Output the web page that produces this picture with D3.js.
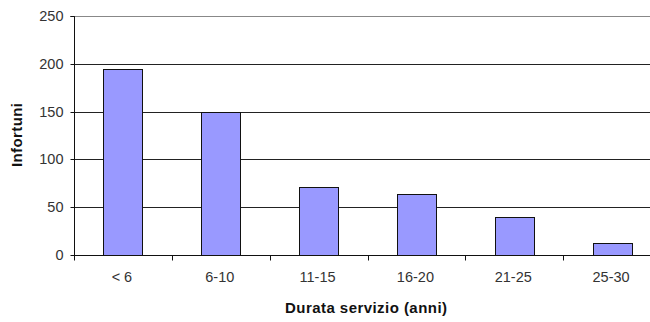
<!DOCTYPE html>
<html><head><meta charset="utf-8">
<script src="https://cdn.jsdelivr.net/npm/d3@7"></script>
<style>body{margin:0;background:#fff}svg{display:block}</style>
</head><body>
<svg id="c" width="650" height="322"></svg>
<script>
const categories = ["< 6", "6-10", "11-15", "16-20", "21-25", "25-30"];
const values = [195, 150, 71, 64, 40, 13];
const yTicks = [0, 50, 100, 150, 200, 250];

(function () {
const svg = d3.select("#c");
const pLeft = 74, pRight = 661, pTop = 16, pBottom = 255;
const xb = d3.scaleBand().domain(categories).range([pLeft, pRight]);
const y = d3.scaleLinear().domain([0, 250]).range([pBottom, pTop]);
const font = "Liberation Sans, Arial, sans-serif";

// gridlines
svg.append("g").selectAll("line").data(yTicks.filter(d => d > 0)).join("line")
  .attr("x1", pLeft).attr("x2", 650)
  .attr("y1", d => Math.round(y(d)) + 0.5).attr("y2", d => Math.round(y(d)) + 0.5)
  .attr("stroke", d => d === 250 ? "#888" : "#222").attr("stroke-width", 1);

// bars
svg.append("g").selectAll("rect").data(values).join("rect")
  .attr("x", (d, i) => Math.round(xb(categories[i]) + xb.bandwidth() / 2 - 19.5) + 0.5)
  .attr("width", 39)
  .attr("y", d => Math.round(y(d)) + 0.5)
  .attr("height", d => Math.round(y(0)) - Math.round(y(d)))
  .attr("fill", "#9999FF").attr("stroke", "#111").attr("stroke-width", 1);

// y axis
const ya = d3.axisLeft(y).tickValues(yTicks).tickSize(4).tickPadding(7);
const gy = svg.append("g").attr("transform", `translate(${pLeft + 0.5},0)`).call(ya);
gy.select(".domain").attr("stroke", "#111").attr("d", `M-4,${Math.round(y(250)) + 0.5}H0V${Math.round(y(0)) + 0.5}`);
gy.selectAll(".tick line").attr("stroke", "#111");
gy.selectAll(".tick").attr("transform", d => `translate(0,${Math.round(y(d)) + 0.5})`);
gy.selectAll("text").attr("font-family", font).attr("font-size", 14.5).attr("fill", "#333");

// x axis
const gx = svg.append("g").attr("transform", `translate(0,${Math.round(y(0)) + 0.5})`);
gx.append("line").attr("x1", pLeft).attr("x2", 650).attr("stroke", "#111");
gx.selectAll(".tk").data(categories).join("line").attr("class", "tk")
  .attr("x1", d => Math.round(xb(d)) + 0.5).attr("x2", d => Math.round(xb(d)) + 0.5)
  .attr("y1", 0).attr("y2", 5).attr("stroke", "#111");
gx.selectAll("text.lbl").data(categories).join("text").attr("class", "lbl")
  .attr("x", d => xb(d) + xb.bandwidth() / 2 - 1).attr("y", 26)
  .attr("text-anchor", "middle").attr("font-family", font).attr("font-size", 14.5).attr("fill", "#333")
  .text(d => d);

// axis titles
svg.append("text").attr("x", 366).attr("y", 313).attr("text-anchor", "middle")
  .attr("font-family", font).attr("font-size", 15).attr("font-weight", "bold").attr("fill", "#111")
  .attr("textLength", 162).attr("lengthAdjust", "spacing")
  .text("Durata servizio (anni)");
svg.append("text").attr("transform", "translate(22,135) rotate(-90)").attr("text-anchor", "middle")
  .attr("font-family", font).attr("font-size", 15).attr("font-weight", "bold").attr("fill", "#111")
  .attr("textLength", 64).attr("lengthAdjust", "spacing")
  .text("Infortuni");
})();
</script>
</body></html>
